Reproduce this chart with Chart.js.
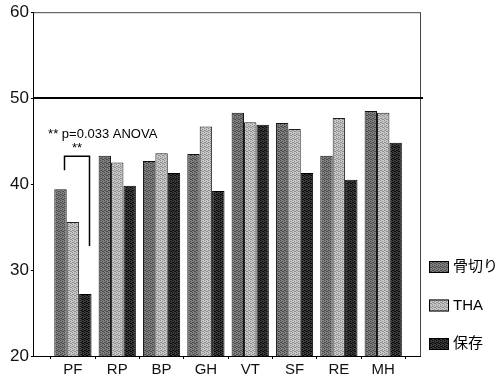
<!DOCTYPE html>
<html>
<head>
<meta charset="utf-8">
<script src="https://cdn.jsdelivr.net/npm/chart.js@4/dist/chart.umd.min.js"></script>
<style>
body { margin: 0; background: #fff; }
</style>
</head>
<body>
<canvas id="chart" width="499" height="381"></canvas>
<script>
// values
const categories = ['PF', 'RP', 'BP', 'GH', 'VT', 'SF', 'RE', 'MH'];
const osteotomy = [39.4, 43.3, 42.7, 43.5, 48.3, 47.1, 43.3, 48.5];
const tha = [35.6, 42.5, 43.6, 46.7, 47.2, 46.4, 47.7, 48.3];
const conservative = [27.2, 39.8, 41.3, 39.2, 46.9, 41.3, 40.5, 44.8];
const seriesNames = ['骨切り', 'THA', '保存'];
const yTicks = [20, 30, 40, 50, 60];
const referenceValue = 50;
const noteText = '** p=0.033 ANOVA';

const canvas = document.getElementById('chart');
const ctx = canvas.getContext('2d');

// checkerboard stipple to imitate the scanned bar texture
function stipple(base, dot) {
    const p = document.createElement('canvas');
    p.width = 4; p.height = 4;
    const g = p.getContext('2d');
    g.fillStyle = base;
    g.fillRect(0, 0, 4, 4);
    g.fillStyle = dot;
    [[0, 0], [2, 1], [1, 2], [3, 3], [2, 3], [0, 2]].forEach(([x, y]) => g.fillRect(x, y, 1, 1));
    return ctx.createPattern(p, 'repeat');
}

const toPoints = arr => arr.map((v, i) => ({ x: i, y: v }));

// frame, reference line at 50, the PF bracket and the legend on the right
const extras = {
    id: 'extras',
    beforeDatasetsDraw(chart) {
        const c = chart.ctx, a = chart.chartArea, y = chart.scales.y;
        c.save();
        c.strokeStyle = '#444';
        c.lineWidth = 1;
        c.beginPath();
        c.moveTo(a.left, a.top + 0.5);
        c.lineTo(a.right, a.top + 0.5);
        c.moveTo(a.right + 0.5, a.top);
        c.lineTo(a.right + 0.5, a.bottom);
        c.stroke();
        const ry = Math.round(y.getPixelForValue(referenceValue));
        c.strokeStyle = '#000';
        c.lineWidth = 2;
        c.beginPath();
        c.moveTo(a.left, ry);
        c.lineTo(a.right + 3, ry);
        c.stroke();
        c.restore();
    },
    afterDatasetsDraw(chart) {
        const c = chart.ctx, a = chart.chartArea, x = chart.scales.x, y = chart.scales.y;
        const b0 = chart.getDatasetMeta(0).data[0];
        const b2 = chart.getDatasetMeta(2).data[0];
        const x1 = Math.round(b0.x + 3) + 0.5, x2 = Math.round(b2.x + 4) + 0.5;
        c.save();
        c.strokeStyle = '#000';
        c.lineWidth = 1.5;
        c.beginPath();
        c.moveTo(x1, y.getPixelForValue(41.6));
        c.lineTo(x1, y.getPixelForValue(43.25));
        c.lineTo(x2, y.getPixelForValue(43.25));
        c.lineTo(x2, y.getPixelForValue(32.8));
        c.stroke();
        c.fillStyle = '#000';
        c.font = '13px "Liberation Sans", Arial, sans-serif';
        c.textBaseline = 'middle';
        c.textAlign = 'left';
        c.fillText(noteText, x.getPixelForValue(-0.56), y.getPixelForValue(45.8));
        c.textAlign = 'center';
        c.fillText('**', (x1 + x2) / 2, y.getPixelForValue(44.2));

        // legend
        c.font = '15px "Liberation Sans", "Noto Sans CJK JP", sans-serif';
        c.textAlign = 'left';
        chart.data.datasets.forEach((ds, i) => {
            const cy = 267 + i * 38.5;
            const bx = a.right + 9;
            c.fillStyle = ds.backgroundColor;
            c.fillRect(bx, cy - 6, 20, 12);
            c.strokeStyle = '#000';
            c.lineWidth = 1;
            c.strokeRect(bx + 0.5, cy - 5.5, 19, 11);
            c.fillStyle = '#000';
            c.fillText(ds.label, bx + 24, cy);
        });
        c.restore();
    }
};

new Chart(ctx, {
    type: 'bar',
    data: {
        datasets: [{
            label: seriesNames[0],
            data: toPoints(osteotomy),
            backgroundColor: stipple('#808080', '#4a4a4a'),
            borderColor: '#111',
            borderWidth: 1
        }, {
            label: seriesNames[1],
            data: toPoints(tha),
            backgroundColor: stipple('#c8c8c8', '#8e8e8e'),
            borderColor: '#222',
            borderWidth: 1
        }, {
            label: seriesNames[2],
            data: toPoints(conservative),
            backgroundColor: stipple('#3a3a3a', '#0a0a0a'),
            borderColor: '#000',
            borderWidth: 1
        }]
    },
    options: {
        responsive: false,
        animation: false,
        categoryPercentage: 0.84,
        barPercentage: 1.0,
        layout: { padding: { top: 5, left: 8, right: 79, bottom: 0 } },
        plugins: {
            legend: { display: false },
            tooltip: { enabled: false }
        },
        scales: {
            x: {
                type: 'linear',
                offset: false,
                min: -0.88,
                max: 7.83,
                grid: { display: true, drawOnChartArea: false, tickLength: 3, color: '#000' },
                border: { display: true, color: '#000', width: 1 },
                ticks: {
                    stepSize: 1,
                    includeBounds: false,
                    autoSkip: false,
                    maxRotation: 0,
                    padding: 2,
                    color: '#111',
                    font: { size: 15, family: '"Liberation Sans", Arial, sans-serif' },
                    callback: v => Number.isInteger(v) ? categories[v] : ''
                }
            },
            y: {
                min: yTicks[0],
                max: yTicks[yTicks.length - 1],
                afterBuildTicks: axis => { axis.ticks = yTicks.map(v => ({ value: v })); },
                grid: { display: true, drawOnChartArea: false, tickLength: 3, color: '#000' },
                border: { display: true, color: '#000', width: 1 },
                ticks: {
                    padding: 2,
                    color: '#111',
                    font: { size: 17, family: '"Liberation Sans", Arial, sans-serif' }
                }
            }
        }
    },
    plugins: [extras]
});
</script>
</body>
</html>
